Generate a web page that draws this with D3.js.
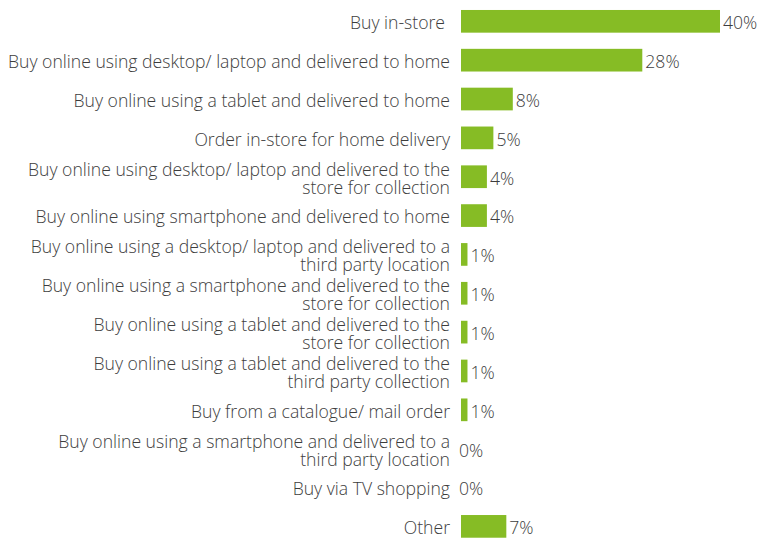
<!DOCTYPE html>
<html>
<head>
<meta charset="utf-8">
<script src="https://cdn.jsdelivr.net/npm/d3@7"></script>
<style>
  html, body { margin: 0; padding: 0; background: #fff; }
  svg { display: block; }
  text { font-family: "Open Sans", sans-serif; font-weight: 300; fill: #3d3d3d; }
</style>
</head>
<body>
<svg id="chart" width="759" height="540"></svg>
<script>
// Purchase channels (share of respondents, %)
const categories = [
  ["Buy in-store"],
  ["Buy online using desktop/ laptop and delivered to home"],
  ["Buy online using a tablet and delivered to home"],
  ["Order in-store for home delivery"],
  ["Buy online using desktop/ laptop and delivered to the", "store for collection"],
  ["Buy online using smartphone and delivered to home"],
  ["Buy online using a desktop/ laptop and delivered to a", "third party location"],
  ["Buy online using a smartphone and delivered to the", "store for collection"],
  ["Buy online using a tablet and delivered to the", "store for collection"],
  ["Buy online using a tablet and delivered to the", "third party collection"],
  ["Buy from a catalogue/ mail order"],
  ["Buy online using a smartphone and delivered to a", "third party location"],
  ["Buy via TV shopping"],
  ["Other"]
];
const values = [40, 28, 8, 5, 4, 4, 1, 1, 1, 1, 1, 0, 0, 7];

const svg = d3.select("#chart");
const fontSize = 17.6;
const lineGap = 18;

const x = d3.scaleLinear().domain([0, 40]).range([461, 720]);
const y = d3.scaleBand()
  .domain(d3.range(categories.length))
  .range([1.9, 545.8])
  .paddingInner(0.416)
  .paddingOuter(0.208);

const rows = svg.append("g").selectAll("g")
  .data(values.map((v, i) => ({ v, i, label: categories[i] })))
  .join("g");

rows.append("rect")
  .attr("x", x(0))
  .attr("y", d => y(d.i))
  .attr("width", d => x(d.v) - x(0))
  .attr("height", y.bandwidth())
  .attr("fill", "#86bc25");

// category labels, right-aligned next to the bars
rows.append("text")
  .attr("text-anchor", "end")
  .attr("font-size", fontSize)
  .attr("transform", d => `translate(${d.i === 0 ? 445 : 450}, ${y(d.i) + y.bandwidth() / 2})`)
  .each(function (d) {
    const n = d.label.length;
    d3.select(this).selectAll("tspan")
      .data(d.label)
      .join("tspan")
      .attr("x", 0)
      .attr("y", (t, k) => (k - (n - 1) / 2) * lineGap)
      .attr("dy", "0.45em")
      .text(t => t);
  });

// value labels at the bar ends
rows.append("text")
  .attr("font-size", fontSize)
  .attr("x", d => d.v === 0 ? x(0) - 2 : x(d.v) + 3)
  .attr("y", d => y(d.i) + y.bandwidth() / 2)
  .attr("dy", "0.45em")
  .text(d => d.v + "%");
</script>
</body>
</html>
